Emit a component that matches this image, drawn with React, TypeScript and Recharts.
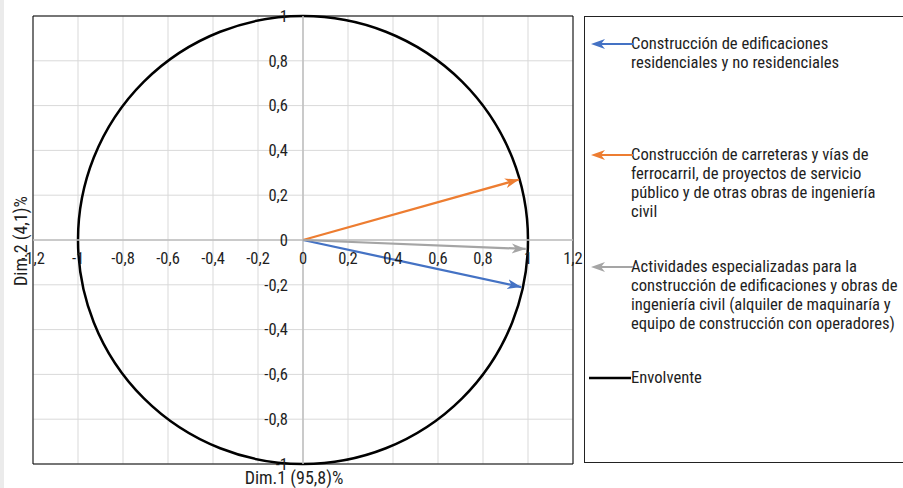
import React from "react";
import {
  ComposedChart,
  Scatter,
  XAxis,
  YAxis,
  CartesianGrid,
  ReferenceLine,
  ReferenceArea,
  ReferenceDot,
} from "recharts";

// tick values of the correlation circle
const xTicks = [-1.2, -1, -0.8, -0.6, -0.4, -0.2, 0, 0.2, 0.4, 0.6, 0.8, 1, 1.2];
const yTicks = [-1, -0.8, -0.6, -0.4, -0.2, 0, 0.2, 0.4, 0.6, 0.8, 1];

// variable coordinates on Dim.1 / Dim.2
const varNames = [
  "Construcción de edificaciones residenciales y no residenciales",
  "Construcción de carreteras y vías de ferrocarril, de proyectos de servicio público y de otras obras de ingeniería civil",
  "Actividades especializadas para la construcción de edificaciones y obras de ingeniería civil (alquiler de maquinaría y equipo de construcción con operadores)",
];
const dim1 = [0.97, 0.96, 0.99];
const dim2 = [-0.21, 0.27, -0.04];
const varColors = ["#4472C4", "#ED7D31", "#A5A5A5"];

// legend text, broken into lines
const legendLines = [
  ["Construcción de edificaciones", "residenciales y no residenciales"],
  [
    "Construcción de carreteras y vías de",
    "ferrocarril, de proyectos de servicio",
    "público y de otras obras de ingeniería",
    "civil",
  ],
  [
    "Actividades especializadas para la",
    "construcción de edificaciones y obras de",
    "ingeniería civil (alquiler de maquinaría y",
    "equipo de construcción con operadores)",
  ],
];
const envelopeName = "Envolvente";
const xTitle = "Dim.1 (95,8)%";
const yTitle = "Dim.2 (4,1)%";

const FONT = '"Liberation Sans Narrow", "Arial Narrow", "Roboto Condensed", sans-serif';
const TEXT = "#1e1e1e";
const TICK_SIZE = 16.5;
const TITLE_SIZE = 18;
const LEGEND_SIZE = 16.6;

const fmt = (v: number) => String(v).replace(".", ",");

const LegendArrow = ({ color }: { color: string }) => (
  <svg width={42} height={14} style={{ position: "absolute", left: 6, top: 0 }}>
    <line x1={10} y1={7} x2={42} y2={7} stroke={color} strokeWidth={2} />
    <path d="M0,7 L14,2 L10,7 L14,12 Z" fill={color} />
  </svg>
);

const App = () => {
  return (
    <div
      style={{
        position: "absolute",
        left: 0,
        top: 0,
        width: 903,
        height: 488,
        background: "#fff",
        fontFamily: FONT,
        overflow: "hidden",
      }}
    >
      <div style={{ position: "absolute", left: 0, top: 0, width: 4, height: 488, background: "#ebebeb" }} />
      <ComposedChart
        width={903}
        height={488}
        margin={{ top: 16, right: 330, bottom: 24, left: 33 }}
      >
        <defs>
          {varColors.map((c, i) => (
            <marker
              key={i}
              id={`arrow-${i}`}
              markerUnits="userSpaceOnUse"
              markerWidth={16}
              markerHeight={12}
              refX={14}
              refY={5}
              orient="auto"
            >
              <path d="M0,0 L14,5 L0,10 L4,5 Z" fill={c} />
            </marker>
          ))}
        </defs>
        <XAxis type="number" dataKey="x" domain={[-1.2, 1.2]} ticks={xTicks} hide />
        <YAxis type="number" dataKey="y" domain={[-1, 1]} ticks={yTicks} hide />
        <CartesianGrid
          stroke="#d9d9d9"
          verticalValues={xTicks}
          horizontalValues={yTicks}
        />
        <ReferenceLine x={0} stroke="#bfbfbf" strokeWidth={1.5} />
        <ReferenceLine y={0} stroke="#bfbfbf" strokeWidth={1.5} />
        <ReferenceArea
          x1={-1.2}
          x2={1.2}
          y1={-1}
          y2={1}
          fill="none"
          fillOpacity={0}
          stroke="#000"
          strokeWidth={1}
        />
        {/* envelope: unit circle inscribed in the [-1,1] box */}
        <ReferenceArea
          x1={-1}
          x2={1}
          y1={-1}
          y2={1}
          shape={(p: any) => (
            <ellipse
              cx={p.x + p.width / 2}
              cy={p.y + p.height / 2}
              rx={Math.abs(p.width) / 2}
              ry={Math.abs(p.height) / 2}
              fill="none"
              stroke="#000"
              strokeWidth={2.5}
            />
          )}
        />
        {xTicks.map((t) => (
          <ReferenceDot
            key={`xt${t}`}
            x={t}
            y={0}
            r={0}
            stroke="none"
            label={{ value: fmt(t), position: "bottom", offset: 12, fill: TEXT, fontSize: TICK_SIZE, fontFamily: FONT }}
          />
        ))}
        {yTicks.map((t) => (
          <ReferenceDot
            key={`yt${t}`}
            x={0}
            y={t}
            r={0}
            stroke="none"
            label={{ value: fmt(t), position: "left", offset: 15, fill: TEXT, fontSize: TICK_SIZE, fontFamily: FONT }}
          />
        ))}
        {varNames.map((name, i) => (
          <Scatter
            key={name}
            name={name}
            data={[
              { x: 0, y: 0 },
              { x: dim1[i], y: dim2[i] },
            ]}
            line={{ stroke: varColors[i], strokeWidth: 2.25, markerEnd: `url(#arrow-${i})` }}
            shape={() => <g />}
            isAnimationActive={false}
          />
        ))}
        <text x={294} y={477} textAnchor="middle" dominantBaseline="central" fill={TEXT} fontSize={TITLE_SIZE} fontFamily={FONT}>
          {xTitle}
        </text>
        <text
          x={20}
          y={241}
          textAnchor="middle"
          dominantBaseline="central"
          fill={TEXT}
          fontSize={TITLE_SIZE}
          fontFamily={FONT}
          transform="rotate(-90 20 241)"
        >
          {yTitle}
        </text>
      </ComposedChart>
      <div
        style={{
          position: "absolute",
          left: 584,
          top: 16,
          width: 340,
          height: 447,
          border: "1px solid #222",
          boxSizing: "border-box",
        }}
      >
        {legendLines.map((lines, i) => (
          <div key={i} style={{ position: "absolute", left: 0, top: 20 + i * 111.3, width: 330 }}>
            <LegendArrow color={varColors[i]} />
            <div style={{ marginLeft: 46, fontSize: LEGEND_SIZE, lineHeight: "19px", color: TEXT, marginTop: -3 }}>
              {lines.map((l) => (
                <div key={l} style={{ whiteSpace: "nowrap" }}>{l}</div>
              ))}
            </div>
          </div>
        ))}
        <div style={{ position: "absolute", left: 0, top: 20 + 3 * 111.3, width: 330 }}>
          <svg width={42} height={14} style={{ position: "absolute", left: 4, top: 0 }}>
            <line x1={0} y1={7} x2={42} y2={7} stroke="#000" strokeWidth={2.5} />
          </svg>
          <div style={{ marginLeft: 46, fontSize: LEGEND_SIZE, lineHeight: "19px", color: TEXT, marginTop: -3 }}>
            {envelopeName}
          </div>
        </div>
      </div>
    </div>
  );
};

export default App;
